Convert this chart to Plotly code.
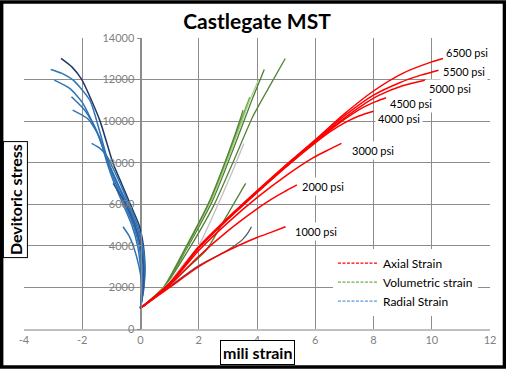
import plotly.graph_objects as go

FONT = "Lato"

# ---------------- data (strain in mili strain, stress in psi) ----------------
confining_labels = ["6500 psi", "5500 psi", "5000 psi", "4500 psi", "4000 psi", "3000 psi", "2000 psi", "1000 psi"]
label_strain = [11.22, 11.12, 10.64, 9.30, 8.89, 7.99, 6.26, 6.01]
label_stress = [13303, 12371, 11572, 10851, 10130, 8573, 6843, 4712]

# Axial strain curves
axial_6500_x = [0, 1, 2, 3, 4, 5, 6, 7, 8, 9, 10, 10.39]
axial_6500_y = [1000, 2200, 3950, 5350, 6650, 7900, 9100, 10350, 11450, 12300, 12850, 13015]
axial_5500_x = [0, 1, 2, 3, 4, 5, 6, 7, 8, 8.9, 9.6, 10.23]
axial_5500_y = [1000, 2200, 3950, 5330, 6620, 7880, 9060, 10250, 11250, 11850, 12200, 12453]
axial_5000_x = [0, 1, 2, 3, 4, 5, 6, 7, 7.6, 8.2, 9, 9.76]
axial_5000_y = [1000, 2190, 3930, 5320, 6600, 7850, 9030, 10150, 10750, 11250, 11700, 11972]
axial_4500_x = [0, 1, 2, 3, 4, 5, 6, 7, 7.63, 8.1, 8.43]
axial_4500_y = [1000, 2180, 3920, 5300, 6580, 7830, 9000, 10080, 10650, 10950, 11122]
axial_4000_x = [0, 1, 2, 3, 4, 5, 6, 6.5, 7.05, 7.5, 8.0]
axial_4000_y = [1000, 2170, 3900, 5280, 6560, 7800, 8950, 9480, 9950, 10250, 10480]
axial_3000_x = [0, 1, 2, 3, 4, 5, 5.92, 6.5, 6.9]
axial_3000_y = [1000, 2150, 3780, 5120, 6320, 7380, 8230, 8650, 8930]
axial_2000_x = [0, 1, 2, 3, 4, 4.5, 5, 5.37]
axial_2000_y = [1000, 2100, 3500, 4720, 5780, 6250, 6650, 6930]
axial_1000_x = [0, 1, 2, 2.83, 3.5, 4, 4.5, 4.98]
axial_1000_y = [1000, 2000, 3000, 3650, 4100, 4400, 4660, 4918]

# Volumetric strain curves
vol_6500_x = [0, 0.8, 1.6, 2.5, 3.2, 3.85, 4.4, 4.97]
vol_6500_y = [1000, 2000, 3700, 5900, 8100, 10200, 11600, 13015]
vol_5500_x = [0, 0.8, 1.56, 2.48, 3.17, 3.82, 4.25]
vol_5500_y = [1000, 2000, 3800, 6200, 8600, 11000, 12490]
vol_5000_x = [0, 0.8, 1.55, 2.45, 3.12, 3.75, 4.05]
vol_5000_y = [1000, 2020, 3850, 6250, 8600, 11000, 11970]
vol_4500_x = [0, 0.8, 1.5, 2.4, 3.05, 3.6, 3.75]
vol_4500_y = [1000, 2030, 3800, 6200, 8500, 10600, 11150]
vol_4000_x = [0, 0.8, 1.5, 2.35, 3.0, 3.45, 3.52]
vol_4000_y = [1000, 2000, 3750, 6100, 8400, 10200, 10530]
vol_3000_x = [0, 0.8, 1.5, 2.03, 2.6, 3.1, 3.55]
vol_3000_y = [1000, 1950, 3150, 4100, 5800, 7400, 8930]
vol_2000_x = [0, 0.8, 1.5, 2.26, 2.9, 3.61]
vol_2000_y = [1000, 1900, 2800, 3800, 5300, 7005]
vol_1000_x = [0, 1, 2, 2.6, 3.0, 3.5, 3.7, 3.81]
vol_1000_y = [1000, 2050, 3050, 3500, 3800, 4300, 4650, 4918]

# Radial strain curves
rad_6500_x = [0, 0.1, 0.15, 0.1, -0.05, -0.35, -0.65, -0.95, -1.40, -2.02, -2.35, -2.73]
rad_6500_y = [1000, 2000, 3000, 4000, 5000, 6000, 7000, 8000, 10049, 12006, 12600, 13015]
rad_5500_x = [0, 0.08, 0.1, 0, -0.2, -0.5, -0.8, -1.1, -1.4, -1.74, -2.31, -2.7, -3.08]
rad_5500_y = [1000, 2000, 3000, 4000, 5000, 6000, 7000, 8000, 9500, 11010, 11972, 12300, 12486]
rad_5000_x = [0, 0.05, 0.05, -0.05, -0.25, -0.55, -0.85, -1.12, -1.5, -2.0, -2.43, -2.96]
rad_5000_y = [1000, 2000, 3000, 4000, 5000, 6000, 7000, 8000, 9500, 10900, 11573, 11972]
rad_4500_x = [0, 0.1, 0.12, 0.05, -0.15, -0.45, -0.78, -1.1, -1.5, -1.9, -2.37]
rad_4500_y = [1000, 2000, 3000, 4000, 5000, 6000, 7000, 8000, 9500, 10500, 11170]
rad_4000_x = [0, 0.05, 0.0, -0.1, -0.3, -0.6, -0.9, -1.15, -1.4, -1.8, -2.33]
rad_4000_y = [1000, 2000, 3000, 4000, 5000, 6000, 7000, 8000, 9200, 10100, 10530]
rad_3000_x = [0, 0.12, 0.15, 0.08, -0.1, -0.4, -0.7, -1.0, -1.15, -1.4, -1.68]
rad_3000_y = [1000, 2000, 3000, 4000, 5000, 6000, 7000, 7900, 8300, 8700, 8928]
rad_2000_x = [0, 0.1, 0.1, 0, -0.2, -0.5, -0.8, -0.94]
rad_2000_y = [1000, 2000, 3000, 4000, 5000, 6000, 6700, 7005]
rad_1000_x = [0, 0.05, -0.05, -0.25, -0.4, -0.6]
rad_1000_y = [1000, 2000, 3000, 4000, 4500, 4918]

x_tick_vals = [-4, -2, 0, 2, 4, 6, 8, 10, 12]
x_tick_text = ["-4", "-2", "0", "2", "4", "6", "8", "10", "12"]
y_tick_vals = [0, 2000, 4000, 6000, 8000, 10000, 12000, 14000]

# ---------------- styles ----------------
vol_series = [
    (vol_6500_x, vol_6500_y, "#548235"),
    (vol_5500_x, vol_5500_y, "#4e7d32"),
    (vol_5000_x, vol_5000_y, "#a9d18e"),
    (vol_4500_x, vol_4500_y, "#70ad47"),
    (vol_4000_x, vol_4000_y, "#548235"),
    (vol_3000_x, vol_3000_y, "#c0c0c0"),
    (vol_2000_x, vol_2000_y, "#548235"),
    (vol_1000_x, vol_1000_y, "#595959"),
]
rad_series = [
    (rad_6500_x, rad_6500_y, "#203864"),
    (rad_5500_x, rad_5500_y, "#2e75b6"),
    (rad_5000_x, rad_5000_y, "#2e75b6"),
    (rad_4500_x, rad_4500_y, "#2f6eb0"),
    (rad_4000_x, rad_4000_y, "#2e75b6"),
    (rad_3000_x, rad_3000_y, "#2e75b6"),
    (rad_2000_x, rad_2000_y, "#2f5597"),
    (rad_1000_x, rad_1000_y, "#2e75b6"),
]
axial_series = [
    (axial_6500_x, axial_6500_y),
    (axial_5500_x, axial_5500_y),
    (axial_5000_x, axial_5000_y),
    (axial_4500_x, axial_4500_y),
    (axial_4000_x, axial_4000_y),
    (axial_3000_x, axial_3000_y),
    (axial_2000_x, axial_2000_y),
    (axial_1000_x, axial_1000_y),
]

fig = go.Figure()

for xs, ys, c in vol_series:
    fig.add_trace(go.Scatter(x=xs, y=ys, mode="lines",
                             line=dict(color=c, width=1.3, shape="spline", smoothing=0.6),
                             showlegend=False, hoverinfo="skip"))
for xs, ys, c in rad_series:
    fig.add_trace(go.Scatter(x=xs, y=ys, mode="lines",
                             line=dict(color=c, width=1.5, shape="spline", smoothing=0.6),
                             showlegend=False, hoverinfo="skip"))
for xs, ys in axial_series:
    fig.add_trace(go.Scatter(x=xs, y=ys, mode="lines",
                             line=dict(color="#ff0000", width=1.5, shape="spline", smoothing=0.8),
                             showlegend=False, hoverinfo="skip"))

# legend entries
for name, c in [("Axial Strain", "#ff0000"), ("Volumetric strain", "#70ad47"), ("Radial Strain", "#5b9bd5")]:
    fig.add_trace(go.Scatter(x=[None], y=[None], mode="lines", name=name,
                             line=dict(color=c, width=1.2, dash="3px,1.5px")))

# confining pressure labels
for txt, xv, yv in zip(confining_labels, label_strain, label_stress):
    fig.add_annotation(x=xv, y=yv, xref="x", yref="y", text=txt, showarrow=False,
                       xanchor="center", yanchor="middle",
                       font=dict(family=FONT, size=11, color="#000000"),
                       bgcolor="#ffffff", borderpad=2)

# axis title boxes
fig.add_annotation(x=-0.0193, y=0.443, xref="paper", yref="paper", text="<b>Devitoric stress</b>",
                   xanchor="center", yanchor="middle",
                   textangle=-90, showarrow=False, font=dict(family=FONT, size=16, color="#000000"),
                   bgcolor="#ffffff", bordercolor="#000000", borderwidth=1, borderpad=2)
fig.add_annotation(x=0.501, y=-0.0824, xref="paper", yref="paper", text="<b>mili strain</b>",
                   xanchor="center", yanchor="middle",
                   showarrow=False, font=dict(family=FONT, size=16, color="#000000"),
                   bgcolor="#ffffff", bordercolor="#000000", borderwidth=1, borderpad=2)

# outer frame
fig.add_shape(type="rect", xref="paper", yref="paper", x0=-0.048, x1=1.031, y0=-0.131, y1=1.124,
              line=dict(color="#000000", width=3.5), layer="above")

fig.update_layout(
    width=506, height=369,
    margin=dict(l=24, r=16, t=38, b=40),
    paper_bgcolor="#ffffff", plot_bgcolor="#ffffff",
    title=dict(text="<b>Castlegate MST</b>", x=0.5, xref="paper", xanchor="center", y=0.94, yanchor="middle",
               font=dict(family=FONT, size=21, color="#000000")),
    font=dict(family=FONT, color="#000000"),
    showlegend=True,
    legend=dict(x=0.663, y=0.276, xanchor="left", yanchor="top", bgcolor="#ffffff",
                font=dict(family=FONT, size=12, color="#000000"), itemwidth=40,
                tracegroupgap=0),
    xaxis=dict(range=[-4, 12], tickvals=x_tick_vals, ticktext=x_tick_text, automargin=False,
               showgrid=True, gridcolor="#8c8c8c", gridwidth=1, zeroline=False,
               showline=True, linecolor="#bfbfbf", linewidth=2, ticks="",
               tickfont=dict(family=FONT, size=11, color="#7f7f7f")),
    yaxis=dict(range=[0, 14000], tickvals=y_tick_vals, tickformat="d", automargin=False,
               anchor="free", position=0.25,
               showgrid=True, gridcolor="#8c8c8c", gridwidth=1, zeroline=False,
               showline=True, linecolor="#8c8c8c", linewidth=1, ticks="outside", ticklen=4,
               tickcolor="#8c8c8c",
               tickfont=dict(family=FONT, size=11, color="#7f7f7f")),
)

fig.write_html("out.html", config={"displayModeBar": False},
               post_script="document.body.style.margin='0';document.body.style.padding='0';")
